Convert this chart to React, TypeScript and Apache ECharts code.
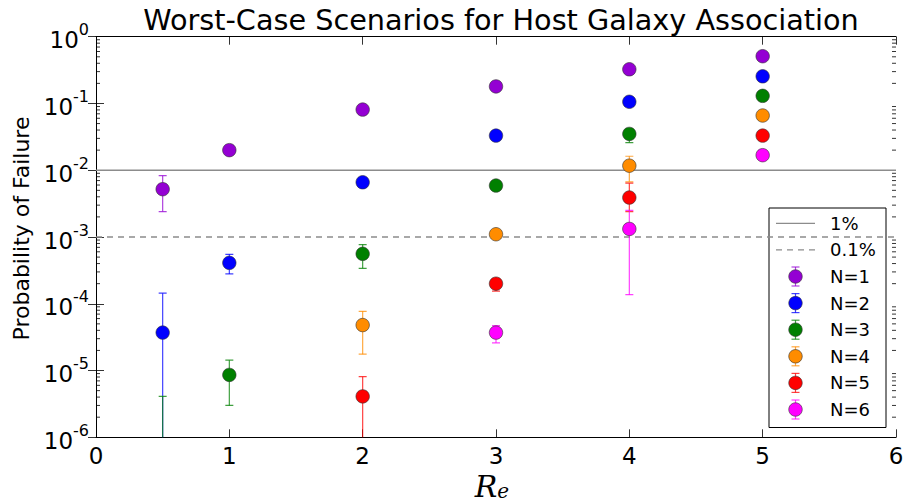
import React, { useEffect, useRef } from "react";
import * as echarts from "echarts";

const titleText = "Worst-Case Scenarios for Host Galaxy Association";
const yLabel = "Probability of Failure";
const seriesNames = ["N=1", "N=2", "N=3", "N=4", "N=5", "N=6"];
const seriesColors = ["#9400D3", "#0000FF", "#008000", "#FF8C00", "#FF0000", "#FF00FF"];

const xN1 = [0.5, 1, 2, 3, 4, 5];
const yN1 = [5.2e-3, 0.02, 0.081, 0.18, 0.325, 0.51];
const loN1 = [2.4e-3, 0.0195, 0.079, 0.177, 0.32, 0.505];
const hiN1 = [8.3e-3, 0.0205, 0.083, 0.183, 0.33, 0.515];

const xN2 = [0.5, 1, 2, 3, 4, 5];
const yN2 = [3.7e-5, 4.1e-4, 6.6e-3, 0.033, 0.106, 0.255];
const loN2 = [1e-8, 2.8e-4, 5.6e-3, 0.031, 0.102, 0.25];
const hiN2 = [1.44e-4, 5.5e-4, 7.5e-3, 0.035, 0.11, 0.26];

const xN3 = [0.5, 1, 2, 3, 4, 5];
const yN3 = [4e-7, 8.6e-6, 5.6e-4, 5.9e-3, 0.035, 0.13];
const loN3 = [1e-8, 3.0e-6, 3.4e-4, 5.4e-3, 0.026, 0.125];
const hiN3 = [4.1e-6, 1.43e-5, 7.7e-4, 6.4e-3, 0.04, 0.135];

const xN4 = [2, 3, 4, 5];
const yN4 = [4.8e-5, 1.1e-3, 0.0117, 0.066];
const loN4 = [1.76e-5, 1.0e-3, 6.7e-3, 0.064];
const hiN4 = [7.7e-5, 1.2e-3, 0.0162, 0.068];

const xN5 = [2, 3, 4, 5];
const yN5 = [4.1e-6, 2.0e-4, 3.9e-3, 0.033];
const loN5 = [1e-8, 1.55e-4, 2.4e-3, 0.032];
const hiN5 = [8.1e-6, 2.3e-4, 6.4e-3, 0.034];

const xN6 = [3, 4, 5];
const yN6 = [3.7e-5, 1.32e-3, 0.0168];
const loN6 = [2.6e-5, 1.37e-4, 0.016];
const hiN6 = [4.7e-5, 2.5e-3, 0.0176];

const refLines = [
  { name: "1%", value: 0.01, type: "solid" },
  { name: "0.1%", value: 0.001, type: "dashed" },
];

const xTicks = [0, 1, 2, 3, 4, 5, 6];
const decadeExponents = [-6, -5, -4, -3, -2, -1];
const minorMultipliers = [2, 3, 4, 5, 6, 7, 8, 9];

const allX = [xN1, xN2, xN3, xN4, xN5, xN6];
const allY = [yN1, yN2, yN3, yN4, yN5, yN6];
const allLo = [loN1, loN2, loN3, loN4, loN5, loN6];
const allHi = [hiN1, hiN2, hiN3, hiN4, hiN5, hiN6];

const FONT = "DejaVu Sans";

export default function App() {
  const ref = useRef<HTMLDivElement>(null);
  useEffect(() => {
    if (!ref.current) return;
    document.body.style.margin = "0";
    document.body.style.overflow = "hidden";
    const chart = echarts.init(ref.current, undefined, { renderer: "svg", width: 903, height: 503 });

    const yMin = Math.pow(10, decadeExponents[0]);
    const minorData: number[][] = [];
    decadeExponents.forEach((e) =>
      minorMultipliers.forEach((m) => minorData.push([0, m * Math.pow(10, e)]))
    );

    const series: any[] = [];
    refLines.forEach((r) => {
      series.push({
        type: "line",
        name: r.name,
        data: [
          [xTicks[0], r.value],
          [xTicks[xTicks.length - 1], r.value],
        ],
        showSymbol: false,
        lineStyle: { color: "#8c8c8c", width: 1.3, type: r.type === "dashed" ? [6, 5] : "solid" },
        silent: true,
        z: 1,
      });
    });

    series.push({
      type: "custom",
      name: "minor",
      data: minorData,
      silent: true,
      z: 1,
      renderItem: (params: any, api: any) => {
        const v = api.value(1);
        const pL = api.coord([xTicks[0], v]);
        const pR = api.coord([xTicks[xTicks.length - 1], v]);
        const st = { stroke: "#000", lineWidth: 0.8 };
        return {
          type: "group",
          children: [
            { type: "line", shape: { x1: pL[0], y1: pL[1], x2: pL[0] + 4, y2: pL[1] }, style: st },
            { type: "line", shape: { x1: pR[0], y1: pR[1], x2: pR[0] - 4, y2: pR[1] }, style: st },
          ],
        };
      },
    });

    // x tick labels placed through the axis scale
    series.push({
      type: "custom",
      name: "xTickLabels",
      data: xTicks.map((x) => [x, yMin]),
      silent: true,
      clip: false,
      z: 3,
      encode: { x: 0, y: 1 },
      renderItem: (params: any, api: any) => {
        const p = api.coord([api.value(0), api.value(1)]);
        return {
          type: "text",
          x: p[0],
          y: p[1] + 7,
          style: {
            text: String(api.value(0)),
            font: `23px "${FONT}"`,
            fill: "#000",
            align: "center",
            verticalAlign: "top",
          },
        };
      },
    });

    seriesNames.forEach((name, i) => {
      const color = seriesColors[i];
      const ebData = allX[i].map((x, j) => [x, allY[i][j], allLo[i][j], allHi[i][j]]);
      series.push({
        type: "custom",
        name: name + " err",
        data: ebData,
        clip: true,
        silent: true,
        z: 2,
        encode: { x: 0, y: 1 },
        renderItem: (params: any, api: any) => {
          const x = api.value(0);
          const lo = api.coord([x, api.value(2)]);
          const hi = api.coord([x, api.value(3)]);
          const cw = 4;
          const st = { stroke: color, lineWidth: 1.2, opacity: 0.75 };
          return {
            type: "group",
            children: [
              { type: "line", shape: { x1: lo[0], y1: lo[1], x2: hi[0], y2: hi[1] }, style: st },
              { type: "line", shape: { x1: lo[0] - cw, y1: lo[1], x2: lo[0] + cw, y2: lo[1] }, style: st },
              { type: "line", shape: { x1: hi[0] - cw, y1: hi[1], x2: hi[0] + cw, y2: hi[1] }, style: st },
            ],
          };
        },
      });
      series.push({
        type: "scatter",
        name,
        data: allX[i].map((x, j) => [x, allY[i][j]]),
        symbol: "circle",
        symbolSize: 13.5,
        clip: true,
        z: 2,
        itemStyle: { color, borderColor: "#333", borderWidth: 0.6, opacity: 1 },
      });
    });

    // legend drawn with graphic
    const lgLeft = 769;
    const lgTop = 208;
    const rowH = 26.6;
    const firstRow = 223.3;
    const legendChildren: any[] = [
      {
        type: "rect",
        shape: { x: lgLeft, y: lgTop, width: 117, height: 219.5 },
        style: { fill: "#fff", stroke: "#000", lineWidth: 1 },
      },
    ];
    const textStyle = { fill: "#000", font: `18px "${FONT}"`, verticalAlign: "middle", align: "left" };
    refLines.forEach((r, i) => {
      const y = firstRow + rowH * i;
      legendChildren.push({
        type: "line",
        shape: { x1: 776, y1: y, x2: 815, y2: y },
        style: { stroke: "#8c8c8c", lineWidth: 1.3, lineDash: r.type === "dashed" ? [6, 5] : null },
      });
      legendChildren.push({ type: "text", x: 830, y, style: { ...textStyle, text: r.name } });
    });
    seriesNames.forEach((name, i) => {
      const y = firstRow + rowH * (i + 2);
      const c = seriesColors[i];
      const st = { stroke: c, lineWidth: 1.2, opacity: 0.75 };
      legendChildren.push({ type: "line", shape: { x1: 795.5, y1: y - 9.5, x2: 795.5, y2: y + 9.5 }, style: st });
      legendChildren.push({ type: "line", shape: { x1: 791.5, y1: y - 9.5, x2: 799.5, y2: y - 9.5 }, style: st });
      legendChildren.push({ type: "line", shape: { x1: 791.5, y1: y + 9.5, x2: 799.5, y2: y + 9.5 }, style: st });
      legendChildren.push({
        type: "circle",
        shape: { cx: 795.5, cy: y, r: 6.75 },
        style: { fill: c, stroke: "#333", lineWidth: 0.6 },
      });
      legendChildren.push({ type: "text", x: 830, y, style: { ...textStyle, text: name } });
    });

    const yAxisCommon = {
      type: "log",
      logBase: 10,
      min: yMin,
      max: 1,
      splitNumber: 6,
      axisLine: { show: true, lineStyle: { color: "#000", width: 1 } },
      axisTick: { show: true, inside: true, length: 8, lineStyle: { color: "#000", width: 0.8 } },
      splitLine: { show: false },
      minorTick: { show: false },
    };
    const xAxisCommon = {
      type: "value",
      min: xTicks[0],
      max: xTicks[xTicks.length - 1],
      interval: 1,
      axisLine: { show: true, onZero: false, lineStyle: { color: "#000", width: 1 } },
      axisTick: { show: true, inside: true, length: 8, lineStyle: { color: "#000", width: 0.8 } },
      splitLine: { show: false },
      axisLabel: { show: false },
    };

    const option: any = {
      animation: false,
      backgroundColor: "#fff",
      title: {
        text: titleText,
        left: 496,
        textAlign: "center",
        top: 0,
        textStyle: { fontFamily: FONT, fontSize: 28.7, fontWeight: "normal", color: "#000" },
      },
      grid: { left: 96, top: 36.7, right: 7, bottom: 65.7, containLabel: false },
      xAxis: [
        { ...xAxisCommon, position: "bottom" },
        { ...xAxisCommon, position: "top" },
      ],
      yAxis: [
        {
          ...yAxisCommon,
          position: "left",
          axisLabel: {
            show: true,
            margin: 7,
            formatter: (v: number) => `{b|10}{s|${Math.round(Math.log10(v))}}`,
            rich: {
              b: { fontFamily: FONT, fontSize: 23, color: "#000", verticalAlign: "bottom", lineHeight: 30 },
              s: { fontFamily: FONT, fontSize: 16, color: "#000", verticalAlign: "top", lineHeight: 30 },
            },
          },
        },
        { ...yAxisCommon, position: "right", axisLabel: { show: false } },
      ],
      series,
      graphic: [
        {
          type: "text",
          x: 21,
          y: 228.5,
          rotation: Math.PI / 2,
          style: { text: yLabel, font: `22px "${FONT}"`, fill: "#000", align: "center", verticalAlign: "middle" },
        },
        {
          type: "text",
          x: 492,
          y: 484,
          style: {
            text: "{r|R}{e|e}",
            align: "center",
            verticalAlign: "middle",
            rich: {
              r: { fontFamily: "DejaVu Serif", fontStyle: "italic", fontSize: 30, color: "#000", verticalAlign: "bottom", lineHeight: 34 },
              e: { fontFamily: "DejaVu Serif", fontStyle: "italic", fontSize: 20, color: "#000", verticalAlign: "bottom", lineHeight: 30 },
            },
          },
        },
        { type: "group", z: 100, children: legendChildren },
      ],
    };
    chart.setOption(option);
    return () => chart.dispose();
  }, []);
  return (
    <div
      ref={ref}
      style={{ position: "fixed", left: 0, top: 0, width: 903, height: 503, overflow: "hidden" }}
    />
  );
}
